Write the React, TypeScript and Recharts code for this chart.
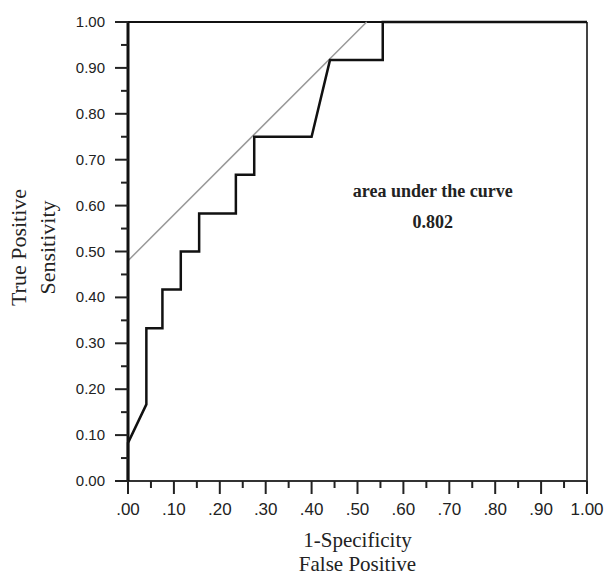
import { LineChart, Line, XAxis, YAxis, ReferenceLine, ReferenceDot } from 'recharts';

// ROC curve (1-specificity, sensitivity)
const rocX = [0, 0, 0.04, 0.04, 0.075, 0.075, 0.115, 0.115, 0.155, 0.155, 0.235, 0.235, 0.275, 0.275, 0.4, 0.44, 0.555, 0.555, 1.0];
const rocY = [0, 0.083, 0.167, 0.333, 0.333, 0.417, 0.417, 0.5, 0.5, 0.583, 0.583, 0.667, 0.667, 0.75, 0.75, 0.917, 0.917, 1.0, 1.0];

// grey reference line
const refX = [0, 0.52];
const refY = [0.48, 1.0];

const axisTicks = [0, 0.05, 0.1, 0.15, 0.2, 0.25, 0.3, 0.35, 0.4, 0.45, 0.5, 0.55, 0.6, 0.65, 0.7, 0.75, 0.8, 0.85, 0.9, 0.95, 1.0];
const xTickLabels = ['.00', '.10', '.20', '.30', '.40', '.50', '.60', '.70', '.80', '.90', '1.00'];
const yTickLabels = ['0.00', '0.10', '0.20', '0.30', '0.40', '0.50', '0.60', '0.70', '0.80', '0.90', '1.00'];

const aucLabel = 'area under the curve';
const aucValue = '0.802';

const rocData = rocX.map((x, i) => ({ x, y: rocY[i] }));
const refData = refX.map((x, i) => ({ x, y: refY[i] }));

const SERIF = '"Liberation Serif", "Times New Roman", serif';
const SANS = '"Liberation Sans", Arial, sans-serif';

function isMajor(v: number) {
  return Math.round(v * 100) % 10 === 0;
}

function XTick({ x, y, payload }: any) {
  const major = isMajor(payload.value);
  return (
    <g>
      <line x1={x} x2={x} y1={y} y2={y + (major ? 13 : 7)} stroke="#222" strokeWidth={2} />
      {major && (
        <text x={x} y={y + 34} textAnchor="middle" fontFamily={SANS} fontSize={17} fill="#222">
          {xTickLabels[Math.round(payload.value * 10)]}
        </text>
      )}
    </g>
  );
}

function YTick({ x, y, payload }: any) {
  const major = isMajor(payload.value);
  return (
    <g>
      <line x1={x - (major ? 13 : 7)} x2={x} y1={y} y2={y} stroke="#222" strokeWidth={2} />
      {major && (
        <text x={x - 23} y={y + 5} textAnchor="end" fontFamily={SANS} fontSize={15} fill="#222">
          {yTickLabels[Math.round(payload.value * 10)]}
        </text>
      )}
    </g>
  );
}

function XTitle({ viewBox }: any) {
  const cx = viewBox.x + viewBox.width / 2;
  return (
    <g fontFamily={SERIF} fontSize={21} fill="#222" textAnchor="middle">
      <text x={cx} y={viewBox.y + 66}>1-Specificity</text>
      <text x={cx} y={viewBox.y + 90}>False Positive</text>
    </g>
  );
}

function YTitle({ viewBox }: any) {
  const cy = viewBox.y + viewBox.height / 2 - 4;
  const x1 = viewBox.x + 26;
  const x2 = viewBox.x + 55;
  return (
    <g fontFamily={SERIF} fontSize={22} fill="#222" textAnchor="middle">
      <text x={x1} y={cy} transform={`rotate(-90 ${x1} ${cy})`}>True Positive</text>
      <text x={x2} y={cy} transform={`rotate(-90 ${x2} ${cy})`}>Sensitivity</text>
    </g>
  );
}

function AucText({ viewBox, text }: any) {
  return (
    <text x={viewBox.x} y={viewBox.y} textAnchor="middle" fontFamily={SERIF} fontWeight="bold" fontSize={18} fill="#222">
      {text}
    </text>
  );
}

export default function App() {
  return (
    <div style={{ position: 'absolute', left: 0, top: 0, background: '#fff' }}>
      <LineChart width={606} height={576} margin={{ top: 22, right: 19, bottom: 0, left: 0 }}>
        <XAxis
          type="number"
          dataKey="x"
          domain={[0, 1]}
          ticks={axisTicks}
          interval={0}
          height={95}
          tickSize={0}
          tickMargin={0}
          tickLine={false}
          tick={<XTick />}
          axisLine={{ stroke: '#333', strokeWidth: 2 }}
          label={{ content: (p: any) => <XTitle {...p} /> }}
        />
        <YAxis
          type="number"
          dataKey="y"
          domain={[0, 1]}
          ticks={axisTicks}
          interval={0}
          width={128}
          tickSize={0}
          tickMargin={0}
          tickLine={false}
          tick={<YTick />}
          axisLine={{ stroke: '#111', strokeWidth: 3 }}
          label={{ content: (p: any) => <YTitle {...p} /> }}
        />
        <ReferenceLine y={1} stroke="#111" strokeWidth={2} />
        <ReferenceLine x={1} stroke="#444" strokeWidth={2} />
        <Line
          data={refData}
          dataKey="y"
          type="linear"
          stroke="#999"
          strokeWidth={1.5}
          dot={false}
          isAnimationActive={false}
        />
        <Line
          data={rocData}
          dataKey="y"
          type="linear"
          stroke="#111"
          strokeWidth={2.5}
          dot={false}
          isAnimationActive={false}
        />
        <ReferenceDot x={0.664} y={0.619} r={0} stroke="none" label={{ content: (p: any) => <AucText {...p} text={aucLabel} /> }} />
        <ReferenceDot x={0.664} y={0.551} r={0} stroke="none" label={{ content: (p: any) => <AucText {...p} text={aucValue} /> }} />
      </LineChart>
    </div>
  );
}
